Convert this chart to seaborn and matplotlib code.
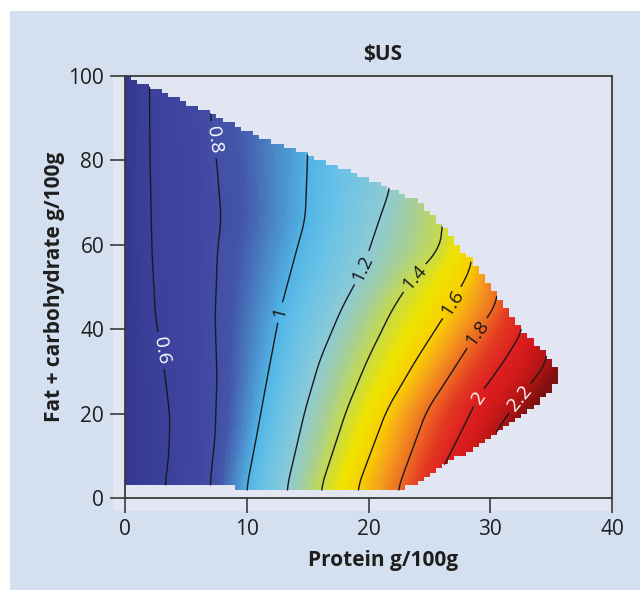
import numpy as np
import matplotlib
matplotlib.use("Agg")
import matplotlib.pyplot as plt
import seaborn as sns
from matplotlib.colors import LinearSegmentedColormap
from matplotlib.path import Path
from matplotlib.patches import Polygon, Rectangle

# ---------------------------------------------------------------
# Price contours ($US) over protein and fat + carbohydrate content.
# Each iso-price line is given as (fat+carb, protein) points.
# ---------------------------------------------------------------
price_levels = [0.6, 0.8, 1.0, 1.2, 1.4, 1.6, 1.8, 2.0, 2.2]

iso06_fatcarb = [3, 10, 19, 29, 43, 59, 80, 97]
iso06_protein = [3.3, 3.6, 3.7, 3.3, 2.5, 2.2, 2.05, 2.0]

iso08_fatcarb = [3.6, 14.5, 28.7, 43, 59, 66, 79, 91]
iso08_protein = [7.0, 7.4, 7.55, 7.4, 7.6, 7.9, 7.55, 7.0]

iso10_fatcarb = [2.5, 14.5, 28.7, 43.8, 58.8, 66, 81]
iso10_protein = [10.0, 10.8, 11.7, 12.7, 14.1, 14.8, 15.0]

iso12_fatcarb = [2.4, 20.9, 32.7, 45, 54, 65.2, 73.5]
iso12_protein = [13.3, 14.8, 16.0, 17.8, 19.5, 20.8, 21.8]

iso14_fatcarb = [2.4, 20.9, 32.7, 45, 52.4, 58.8, 64.2]
iso14_protein = [16.1, 18.2, 19.9, 22.0, 23.7, 25.8, 26.1]

iso16_fatcarb = [2.4, 20.9, 32.7, 46.2, 55]
iso16_protein = [19.1, 21.5, 23.9, 26.9, 28.5]

iso18_fatcarb = [2, 20.9, 25.6, 39.1, 46.4]
iso18_protein = [22.4, 24.8, 25.9, 28.9, 30.6]

iso20_fatcarb = [6, 15, 23.9, 32.7, 39.8]
iso20_protein = [25.9, 27.5, 29.0, 31.2, 32.7]

iso22_fatcarb = [14.5, 23.7, 32.2]
iso22_protein = [30.2, 32.4, 34.7]

price_at_zero_protein = 0.48
price_beyond_last = 2.4

# Outline of the feasible food composition region
edge_protein = [0.0, 1.2, 2.05, 4.5, 7.0, 9.2, 11.7, 14.1, 16.0, 18.7, 21.5,
                24.2, 26.1, 28.5, 30.6, 32.4, 34.7, 35.5, 35.5, 33.3, 29.2,
                24.2, 22.8, 9.0, 9.0, 0.0]
edge_fatcarb = [100.0, 98.3, 97.4, 94.3, 91.2, 87.9, 84.8, 82.5, 80.1, 77.0,
                73.7, 69.9, 64.2, 55.7, 47.6, 40.5, 33.4, 29.6, 27.3, 20.9,
                13.0, 4.3, 1.8, 1.8, 3.0, 3.0]

# Label anchor points (protein, fat+carb)
label_points = [(3.1, 35), (7.1, 84.8), (12.7, 44), (19.5, 54.5), (23.7, 52.4),
                (26.9, 46.2), (28.9, 39.1), (29.0, 23.9), (32.4, 23.7)]

# ---------------------------------------------------------------
iso_lines = [
    (iso06_fatcarb, iso06_protein), (iso08_fatcarb, iso08_protein),
    (iso10_fatcarb, iso10_protein), (iso12_fatcarb, iso12_protein),
    (iso14_fatcarb, iso14_protein), (iso16_fatcarb, iso16_protein),
    (iso18_fatcarb, iso18_protein), (iso20_fatcarb, iso20_protein),
    (iso22_fatcarb, iso22_protein),
]

# fine sampling for the colour field and the contour lines
dx, dy = 0.1, 0.25
x_edges = np.arange(0, 36 + dx / 2, dx)
y_edges = np.arange(0, 100 + dy / 2, dy)
xc = 0.5 * (x_edges[:-1] + x_edges[1:])
yc = 0.5 * (y_edges[:-1] + y_edges[1:])

# iso-line positions along each row, lightly smoothed in the vertical
win = 25
kernel = np.ones(win) / win
positions = []
for fc, pr in iso_lines:
    p = np.interp(yc, fc, pr)
    padded = np.concatenate([np.full(win // 2, p[0]), p, np.full(win // 2, p[-1])])
    positions.append(np.convolve(padded, kernel, mode="valid"))
positions = np.array(positions)

price = np.empty((yc.size, xc.size))
for i in range(yc.size):
    pos = list(positions[:, i])
    xp = [0.0] + pos + [pos[-1] + 2.0]
    fp = [price_at_zero_protein] + price_levels + [price_beyond_last]
    price[i] = np.interp(xc, xp, fp)

# region mask on a coarse lattice (0.5 g protein x 1 g fat+carb)
outline = np.column_stack([edge_protein, edge_fatcarb])
cx = np.arange(0.25, 36, 0.5)
cy = np.arange(0.5, 100, 1.0)
CX, CY = np.meshgrid(cx, cy)
coarse_in = Path(outline).contains_points(
    np.column_stack([CX.ravel(), CY.ravel()])).reshape(CX.shape)
ix = np.minimum((xc / 0.5).astype(int), cx.size - 1)
iy = np.minimum((yc / 1.0).astype(int), cy.size - 1)
fine_in = coarse_in[np.ix_(iy, ix)]
price_masked = np.ma.masked_where(~fine_in, price)

# ---------------------------------------------------------------
sns.set_theme(style="ticks")
plt.rcParams["font.family"] = ["Open Sans", "DejaVu Sans"]

vmin, vmax = 0.45, 2.35
stops = [
    (0.45, "#33368e"), (0.60, "#3c429c"), (0.75, "#4148a1"), (0.85, "#4456a9"),
    (0.92, "#4a84c6"), (1.00, "#51b5e6"), (1.08, "#6bc3e6"), (1.20, "#8ecbd6"),
    (1.30, "#a6cf98"), (1.40, "#c8db48"), (1.50, "#efe400"), (1.60, "#f8d000"),
    (1.70, "#f6a01c"), (1.80, "#ee6c22"), (1.90, "#e43a22"), (2.00, "#de1f20"),
    (2.10, "#d21a1a"), (2.20, "#b01414"), (2.35, "#7e1010"),
]
cmap = LinearSegmentedColormap.from_list(
    "price", [((v - vmin) / (vmax - vmin), c) for v, c in stops])

W, H = 640, 598
fig = plt.figure(figsize=(W / 100, H / 100), dpi=100, facecolor="white")

def px_rect(x0, y0, x1, y1, color):
    fig.patches.append(Rectangle((x0 / W, 1 - y1 / H), (x1 - x0) / W, (y1 - y0) / H,
                                 transform=fig.transFigure, facecolor=color,
                                 edgecolor="none", zorder=-10))

panel_color = "#d4dff0"
plot_bg = "#e1e6f2"
px_rect(10, 11, 640, 590, panel_color)
px_rect(113, 76, 612, 511, plot_bg)

ax = fig.add_axes([125 / W, 1 - 498 / H, (612 - 125) / W, (498 - 76) / H])
ax.set_facecolor(plot_bg)

ax.imshow(price_masked, cmap=cmap, vmin=vmin, vmax=vmax, origin="lower",
          extent=[x_edges[0], x_edges[-1], y_edges[0], y_edges[-1]],
          aspect="auto", interpolation="nearest")

cs = ax.contour(xc, yc, price, levels=price_levels, colors="#1a1a1a",
                linewidths=1.0)
clip = Polygon(outline, closed=True, transform=ax.transData,
               facecolor="none", edgecolor="none")
cs.set_clip_path(clip)

labels = ax.clabel(cs, manual=label_points, inline=True, inline_spacing=5,
                   fmt=lambda v: f"{v:g}", fontsize=14)
for txt in labels:
    val = float(txt.get_text())
    txt.set_color("white" if (val < 0.9 or val > 1.9) else "#1a1a1a")

ax.set_xlim(0, 40)
ax.set_ylim(0, 100)
ax.set_xticks([0, 10, 20, 30, 40])
ax.set_yticks([0, 20, 40, 60, 80, 100])
ax.tick_params(direction="out", length=11, width=1.2, color="#3a3a3a",
               labelsize=15, labelcolor="#1e1e1e", pad=4)
for sp in ax.spines.values():
    sp.set_visible(True)
    sp.set_color("#3a3a3a")
    sp.set_linewidth(1.3)

ax.set_xlabel("Protein g/100g", fontsize=15, fontweight="bold", color="#1e1e1e")
ax.xaxis.label.set_va("center")
ax.xaxis.set_label_coords(0.53, -0.147)
ax.set_ylabel("Fat + carbohydrate g/100g", fontsize=15, fontweight="bold",
              color="#1e1e1e")
ax.yaxis.label.set_va("center")
ax.yaxis.set_label_coords(-0.144, 0.5)

ax.text(0.53, 1.05, r"\$US", transform=ax.transAxes, ha="center", va="center",
        fontsize=15, fontweight="bold", color="#1e1e1e")

fig.savefig("out.png", dpi=100, facecolor=fig.get_facecolor())
